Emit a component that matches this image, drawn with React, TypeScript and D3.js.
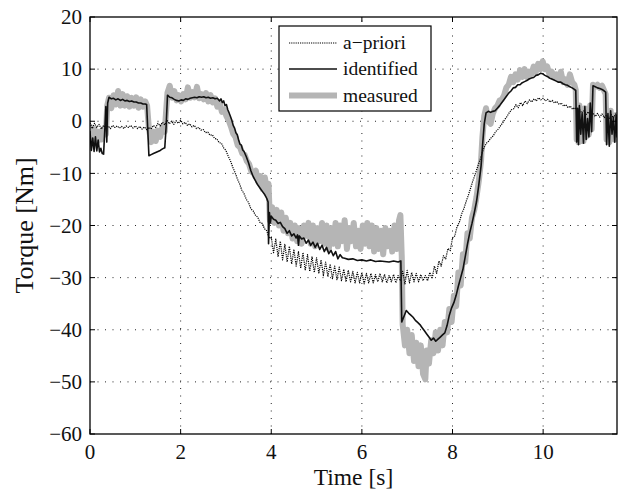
import React from "react";
import * as d3 from "d3";

const xTicks = [0, 2, 4, 6, 8, 10];
const yTicks = [-60, -50, -40, -30, -20, -10, 0, 10, 20];
const legendLabels = ["a\u2212priori", "identified", "measured"];

const apriori: [number, number][] = [
  [0.00,-0.3],[0.05,-1.4],[0.10,-0.4],[0.15,-1.2],[0.20,-0.6],[0.25,-1.5],[0.30,-0.8],[0.35,-1.3],[0.40,-0.9],[0.45,-1.4],
  [0.50,-0.8],[0.55,-1.2],[0.60,-0.9],[0.65,-1.3],[0.70,-1.0],[0.75,-1.4],[0.80,-0.9],[0.85,-1.2],[0.90,-0.8],[0.95,-1.3],
  [1.00,-0.9],[1.05,-1.4],[1.10,-1.0],[1.15,-1.5],[1.20,-1.1],[1.25,-1.6],[1.30,-1.2],[1.35,-1.5],[1.40,-0.8],[1.45,-1.2],
  [1.50,-0.4],[1.55,-0.9],[1.60,-0.2],[1.65,-0.7],[1.70,0.2],[1.75,-0.5],[1.80,0.0],[1.85,-0.6],[1.90,0.1],[1.95,-0.4],
  [2.00,0.2],[2.05,-0.5],[2.10,-0.2],[2.15,-0.8],[2.20,-0.5],[2.25,-1.1],[2.30,-0.8],[2.35,-1.4],[2.40,-1.2],[2.45,-1.7],
  [2.50,-1.6],[2.55,-2.2],[2.60,-2.1],[2.65,-2.7],[2.70,-2.6],[2.75,-3.3],[2.80,-3.4],[2.85,-4.1],[2.90,-4.2],[2.95,-5.1],
  [3.00,-5.6],[3.05,-6.7],[3.10,-7.6],[3.15,-8.8],[3.20,-9.8],[3.25,-11.0],[3.30,-12.0],[3.35,-13.2],[3.40,-13.9],[3.45,-15.0],
  [3.50,-15.6],[3.55,-16.8],[3.60,-17.2],[3.65,-18.0],[3.70,-18.4],[3.75,-19.4],[3.80,-19.6],[3.85,-20.6],[3.90,-21.0],[3.95,-22.4],
  [4.00,-22.2],[4.05,-25.2],[4.10,-22.6],[4.15,-26.0],[4.20,-23.0],[4.25,-26.6],[4.30,-23.6],[4.35,-27.0],[4.40,-24.0],[4.45,-27.4],
  [4.50,-24.6],[4.55,-27.8],[4.60,-25.0],[4.65,-28.2],[4.70,-25.2],[4.75,-28.6],[4.80,-25.6],[4.85,-28.8],[4.90,-26.0],[4.95,-29.0],
  [5.00,-26.2],[5.05,-29.2],[5.10,-26.6],[5.15,-29.6],[5.20,-27.0],[5.25,-29.8],[5.30,-27.4],[5.35,-30.2],[5.40,-27.8],[5.45,-30.4],
  [5.50,-28.0],[5.55,-30.6],[5.60,-28.4],[5.65,-30.8],[5.70,-28.6],[5.75,-30.8],[5.80,-28.8],[5.85,-31.0],[5.90,-29.0],[5.95,-31.0],
  [6.00,-29.0],[6.05,-31.2],[6.10,-29.2],[6.15,-31.0],[6.20,-29.2],[6.25,-31.0],[6.30,-29.4],[6.35,-30.8],[6.40,-29.2],[6.45,-30.8],
  [6.50,-29.4],[6.55,-31.0],[6.60,-29.6],[6.65,-30.8],[6.70,-29.4],[6.75,-31.0],[6.80,-29.6],[6.85,-30.6],[6.90,-28.8],[6.95,-31.2],
  [7.00,-28.6],[7.05,-31.0],[7.10,-29.0],[7.15,-30.8],[7.20,-29.2],[7.25,-30.8],[7.30,-29.4],[7.35,-30.6],[7.40,-29.6],[7.45,-30.6],
  [7.50,-29.0],[7.55,-30.2],[7.60,-27.8],[7.65,-29.2],[7.70,-26.8],[7.75,-27.8],[7.80,-25.8],[7.85,-26.4],[7.90,-24.4],[7.95,-24.8],
  [8.00,-22.4],[8.05,-22.0],[8.10,-20.2],[8.15,-19.4],[8.20,-17.8],[8.25,-16.8],[8.30,-15.4],[8.35,-14.2],[8.40,-12.8],[8.45,-11.4],
  [8.50,-10.2],[8.55,-8.8],[8.60,-7.6],[8.65,-6.2],[8.70,-5.0],[8.75,-4.2],[8.80,-3.8],[8.85,-3.2],[8.90,-2.8],[8.95,-2.0],
  [9.00,-1.6],[9.05,-1.0],[9.10,-0.4],[9.15,0.3],[9.20,0.9],[9.25,1.6],[9.30,2.2],[9.35,2.4],[9.40,3.2],[9.45,2.6],
  [9.50,3.6],[9.55,3.0],[9.60,3.9],[9.65,3.4],[9.70,4.1],[9.75,3.7],[9.80,4.3],[9.85,3.9],[9.90,4.5],[9.95,4.1],
  [10.00,4.4],[10.05,3.9],[10.10,4.2],[10.15,3.7],[10.20,4.0],[10.25,3.5],[10.30,3.8],[10.35,3.2],[10.40,3.5],[10.45,2.9],
  [10.50,3.2],[10.55,2.6],[10.60,2.9],[10.65,2.3],[10.70,2.6],[10.75,2.0],[10.80,2.3],[10.85,1.6],[10.90,2.0],[10.95,1.3],
  [11.00,1.8],[11.05,1.0],[11.10,1.6],[11.15,0.9],[11.20,1.5],[11.25,0.8],[11.30,1.4],[11.35,0.7],[11.40,1.2],[11.45,0.4],
  [11.50,1.3],[11.55,0.6],[11.60,1.4],[11.63,1.0],
];

const identified: [number, number][] = [
  [0.00,-2.0],[0.03,-5.6],[0.06,-3.2],[0.09,-5.8],[0.12,-3.0],[0.15,-5.7],[0.18,-3.6],[0.21,-5.9],[0.24,-5.2],[0.27,-6.2],
  [0.30,-6.3],[0.33,-1.0],[0.35,2.8],[0.37,-4.0],[0.39,3.5],[0.42,4.6],[0.47,4.3],[0.52,4.4],[0.57,4.1],[0.62,4.3],
  [0.67,4.0],[0.72,4.2],[0.77,3.9],[0.82,4.0],[0.87,3.8],[0.92,3.9],[0.97,3.7],[1.02,3.7],[1.07,3.5],[1.12,3.5],
  [1.17,3.3],[1.22,3.3],[1.25,3.2],[1.30,-6.6],[1.35,-6.4],[1.40,-6.2],[1.45,-6.0],[1.50,-5.8],[1.55,-5.6],[1.60,-5.3],
  [1.65,-5.1],[1.68,-1.0],[1.71,5.0],[1.76,4.6],[1.81,4.5],[1.86,4.2],[1.91,4.0],[1.96,3.9],[2.01,4.1],[2.06,4.0],
  [2.11,4.3],[2.16,4.2],[2.21,4.4],[2.26,4.5],[2.31,4.6],[2.36,4.5],[2.41,4.7],[2.46,4.6],[2.51,4.7],[2.56,4.5],
  [2.61,4.6],[2.66,4.4],[2.71,4.5],[2.76,4.3],[2.81,4.4],[2.86,3.9],[2.89,4.3],[2.92,3.6],[2.95,3.9],[2.98,3.0],
  [3.01,3.2],[3.04,2.2],[3.07,1.6],[3.10,0.9],[3.13,0.2],[3.16,-0.8],[3.19,-1.3],[3.22,-2.2],[3.25,-2.6],[3.28,-3.6],
  [3.31,-4.4],[3.34,-4.6],[3.37,-5.5],[3.40,-5.8],[3.45,-6.8],[3.50,-8.0],[3.55,-9.5],[3.60,-10.6],[3.65,-11.4],[3.70,-12.2],
  [3.75,-12.8],[3.80,-13.4],[3.85,-14.0],[3.90,-14.8],[3.93,-15.5],[3.94,-23.5],[3.96,-17.5],[3.98,-19.5],[4.00,-18.2],[4.05,-18.8],
  [4.10,-19.0],[4.15,-19.6],[4.20,-19.4],[4.25,-20.2],[4.30,-20.6],[4.35,-21.5],[4.40,-21.0],[4.45,-22.0],[4.50,-21.6],[4.55,-22.4],
  [4.58,-21.8],[4.60,-23.8],[4.62,-22.0],[4.67,-22.6],[4.72,-22.4],[4.77,-23.4],[4.82,-22.8],[4.87,-23.8],[4.92,-23.2],[4.97,-24.2],
  [5.02,-23.4],[5.07,-24.6],[5.12,-23.8],[5.17,-25.0],[5.22,-24.2],[5.27,-25.4],[5.32,-24.8],[5.37,-25.8],[5.42,-25.0],[5.47,-26.4],
  [5.52,-25.6],[5.57,-26.2],[5.62,-26.3],[5.70,-26.5],[5.80,-26.4],[5.90,-26.7],[6.00,-26.6],[6.10,-26.8],[6.20,-26.6],[6.30,-26.9],
  [6.40,-26.8],[6.50,-26.9],[6.60,-27.0],[6.70,-26.8],[6.80,-27.0],[6.86,-26.8],[6.88,-38.5],[6.93,-37.4],[6.98,-36.3],[7.03,-36.8],
  [7.08,-37.2],[7.13,-37.6],[7.18,-38.2],[7.23,-38.6],[7.28,-39.0],[7.33,-39.6],[7.38,-40.2],[7.43,-40.8],[7.48,-41.4],[7.53,-42.0],
  [7.58,-41.6],[7.63,-42.2],[7.68,-41.8],[7.73,-41.4],[7.78,-41.0],[7.83,-40.6],[7.88,-39.2],[7.93,-37.2],[7.98,-35.8],[8.03,-34.8],
  [8.08,-33.4],[8.13,-31.6],[8.18,-30.0],[8.23,-28.4],[8.28,-26.0],[8.33,-23.6],[8.38,-21.4],[8.43,-19.6],[8.48,-17.6],[8.53,-15.4],
  [8.58,-12.2],[8.63,-8.6],[8.66,-5.0],[8.70,-0.5],[8.74,1.6],[8.79,1.9],[8.84,1.7],[8.89,1.9],[8.94,2.0],[8.99,2.5],
  [9.04,3.0],[9.09,3.6],[9.14,4.2],[9.19,4.8],[9.24,5.4],[9.29,5.8],[9.34,6.4],[9.39,6.5],[9.44,7.0],[9.49,7.0],
  [9.54,7.4],[9.59,7.6],[9.64,7.8],[9.69,8.1],[9.74,8.3],[9.79,8.4],[9.84,8.8],[9.89,8.9],[9.94,9.2],[9.99,9.1],
  [10.04,8.8],[10.09,8.6],[10.14,8.3],[10.19,8.1],[10.24,7.9],[10.29,7.7],[10.34,7.5],[10.39,7.5],[10.44,7.2],[10.49,7.0],
  [10.54,6.9],[10.59,6.6],[10.64,6.4],[10.69,6.1],[10.72,5.9],[10.74,-4.0],[10.76,2.5],[10.78,-4.5],[10.80,3.0],[10.83,-2.5],
  [10.86,1.5],[10.89,-4.2],[10.92,2.8],[10.95,-3.5],[10.98,0.5],[11.01,-3.0],[11.04,3.5],[11.07,-2.0],[11.10,6.8],[11.15,6.6],
  [11.20,6.4],[11.25,6.3],[11.30,6.1],[11.35,5.8],[11.38,5.6],[11.40,-4.5],[11.43,1.5],[11.46,-4.8],[11.49,2.0],[11.52,-2.5],
  [11.55,0.8],[11.58,-4.0],[11.61,1.2],[11.63,-3.0],
];

const measured: [number, number][] = [
  [0.00,-1.0],[0.05,-3.5],[0.10,-1.5],[0.15,-4.0],[0.20,-2.0],[0.25,-3.5],[0.30,-1.5],[0.35,-2.5],[0.38,3.0],[0.42,4.5],
  [0.47,2.5],[0.52,5.0],[0.57,3.2],[0.62,5.8],[0.67,3.0],[0.72,5.2],[0.77,3.0],[0.82,4.8],[0.87,2.8],[0.92,4.5],
  [0.97,3.0],[1.02,4.6],[1.07,2.6],[1.12,4.2],[1.17,2.8],[1.22,3.8],[1.26,3.0],[1.30,-1.5],[1.35,-4.0],[1.40,-2.0],
  [1.45,-3.8],[1.50,-1.8],[1.55,-3.0],[1.60,-1.0],[1.65,-2.0],[1.68,2.0],[1.71,5.5],[1.76,6.8],[1.81,4.5],[1.86,5.8],
  [1.91,4.0],[1.96,5.0],[2.01,3.8],[2.06,5.2],[2.11,4.2],[2.16,6.5],[2.21,4.5],[2.26,5.6],[2.31,4.6],[2.36,6.6],
  [2.41,4.4],[2.46,5.2],[2.51,4.2],[2.56,5.4],[2.61,3.8],[2.66,5.0],[2.71,3.6],[2.76,4.4],[2.81,2.8],[2.86,3.6],
  [2.91,1.8],[2.96,2.2],[3.01,1.0],[3.06,0.2],[3.11,-1.0],[3.16,-2.4],[3.21,-3.0],[3.26,-4.6],[3.31,-5.0],[3.36,-6.2],
  [3.41,-6.4],[3.46,-7.6],[3.51,-8.2],[3.56,-9.6],[3.61,-10.0],[3.66,-9.5],[3.71,-11.6],[3.76,-10.5],[3.81,-13.0],[3.86,-10.8],
  [3.91,-14.0],[3.94,-12.0],[3.97,-19.0],[4.02,-16.5],[4.07,-19.5],[4.12,-17.0],[4.17,-20.0],[4.22,-17.5],[4.27,-21.0],[4.32,-18.5],
  [4.37,-21.5],[4.42,-19.5],[4.47,-22.5],[4.52,-20.0],[4.57,-23.0],[4.62,-20.5],[4.67,-23.5],[4.72,-20.0],[4.77,-22.0],[4.82,-19.5],
  [4.87,-23.5],[4.92,-20.0],[4.97,-24.0],[5.02,-20.5],[5.07,-23.0],[5.12,-19.5],[5.17,-23.5],[5.22,-20.0],[5.27,-24.5],[5.32,-20.5],
  [5.37,-23.5],[5.42,-19.5],[5.47,-24.0],[5.52,-20.0],[5.57,-23.0],[5.62,-19.0],[5.67,-24.5],[5.72,-20.5],[5.77,-23.0],[5.82,-19.5],
  [5.87,-24.0],[5.92,-21.0],[5.97,-24.5],[6.02,-20.0],[6.07,-23.5],[6.12,-19.5],[6.17,-24.0],[6.22,-20.0],[6.27,-25.0],[6.32,-20.5],
  [6.37,-24.5],[6.42,-21.0],[6.47,-25.5],[6.52,-20.5],[6.57,-24.0],[6.62,-21.0],[6.67,-25.0],[6.72,-20.0],[6.77,-24.5],[6.82,-19.0],
  [6.85,-18.0],[6.88,-26.0],[6.90,-39.0],[6.95,-43.0],[7.00,-40.0],[7.05,-44.5],[7.10,-41.0],[7.15,-46.0],[7.20,-42.5],[7.25,-47.0],
  [7.30,-43.0],[7.35,-48.5],[7.40,-49.5],[7.43,-44.0],[7.48,-46.5],[7.53,-42.0],[7.58,-44.5],[7.63,-40.5],[7.68,-44.0],[7.73,-40.0],
  [7.78,-43.0],[7.83,-38.5],[7.88,-40.5],[7.93,-36.0],[7.98,-38.5],[8.03,-33.5],[8.08,-35.5],[8.13,-29.0],[8.18,-31.5],[8.23,-25.5],
  [8.28,-27.0],[8.33,-21.5],[8.38,-22.5],[8.43,-18.5],[8.48,-17.0],[8.53,-14.5],[8.58,-11.5],[8.63,-7.5],[8.66,-3.0],[8.70,1.0],
  [8.74,2.5],[8.79,0.0],[8.84,-0.5],[8.89,1.5],[8.94,2.5],[8.99,3.0],[9.04,4.0],[9.09,4.2],[9.14,5.0],[9.19,6.5],
  [9.24,7.0],[9.29,8.5],[9.34,7.5],[9.39,9.0],[9.44,8.0],[9.49,9.8],[9.54,8.5],[9.59,10.0],[9.64,8.5],[9.69,9.5],
  [9.74,9.0],[9.79,10.5],[9.84,9.5],[9.89,11.0],[9.94,10.0],[9.99,11.5],[10.04,10.0],[10.09,10.5],[10.14,9.0],[10.19,9.5],
  [10.24,8.5],[10.29,9.0],[10.34,8.0],[10.39,9.5],[10.44,7.5],[10.49,8.0],[10.54,7.0],[10.59,9.0],[10.64,7.5],[10.69,7.0],
  [10.72,6.0],[10.74,-3.5],[10.76,2.0],[10.78,-4.0],[10.80,3.0],[10.83,-2.0],[10.86,1.5],[10.89,-3.8],[10.92,2.5],[10.95,-3.0],
  [10.98,0.5],[11.01,-2.5],[11.04,3.0],[11.07,-1.5],[11.10,7.0],[11.15,6.6],[11.20,7.0],[11.25,6.4],[11.30,6.8],[11.35,5.8],
  [11.38,5.2],[11.40,-3.5],[11.43,1.5],[11.46,-4.0],[11.49,2.0],[11.52,-2.0],[11.55,0.8],[11.58,-3.5],[11.61,1.2],[11.63,-2.5],
];

const W = 618;
const H = 490;
const L = 90;
const R = 617;
const T = 17;
const B = 434;
const FONT = "'Liberation Serif', 'Times New Roman', Times, serif";

export default function App() {
  const x = d3.scaleLinear().domain([0, 11.63]).range([L, R]);
  const y = d3.scaleLinear().domain([-60, 20]).range([B, T]);
  const line = d3
    .line<[number, number]>()
    .x((d) => x(d[0]))
    .y((d) => y(d[1]));
  const fmt = d3.format("d");
  const tickLen = 5;

  const legendX = 279;
  const legendY = 26;
  const legendW = 152;
  const legendH = 85;
  const rowY = [43, 69, 95.5];
  const styles = [
    { stroke: "#000", width: 1.2, dash: "1.2,1" },
    { stroke: "#111", width: 1.6, dash: undefined },
    { stroke: "#b5b5b5", width: 6, dash: undefined },
  ];
  const txt = { fontFamily: FONT };

  return (
    <svg
      width={W}
      height={H}
      style={{ position: "absolute", left: 0, top: 0, background: "#fff", fontFamily: FONT }}
    >
      <rect x={0} y={0} width={W} height={H} fill="#fff" />
      <defs>
        <clipPath id="plotclip">
          <rect x={L} y={T} width={R - L} height={B - T} />
        </clipPath>
      </defs>
      <g stroke="#000" strokeWidth={1} strokeDasharray="1,6.5" opacity={0.85}>
        {xTicks
          .filter((t) => t > 0)
          .map((t) => (
            <line key={"gx" + t} x1={x(t)} x2={x(t)} y1={B} y2={T} />
          ))}
        {yTicks
          .filter((t) => t > -60 && t < 20)
          .map((t) => (
            <line key={"gy" + t} x1={L} x2={R} y1={y(t)} y2={y(t)} />
          ))}
      </g>
      <g clipPath="url(#plotclip)" fill="none" strokeLinejoin="round" strokeLinecap="round">
        <path d={line(measured) || ""} stroke="#b5b5b5" strokeWidth={6} />
        <path
          d={line(apriori) || ""}
          stroke="#000"
          strokeWidth={1.2}
          strokeDasharray="1.2,1"
          strokeLinecap="butt"
        />
        <path d={line(identified) || ""} stroke="#111" strokeWidth={1.6} />
      </g>
      <rect x={L} y={T} width={R - L} height={B - T} fill="none" stroke="#000" strokeWidth={1.3} />
      <g stroke="#000" strokeWidth={1}>
        {xTicks.map((t) => (
          <g key={"tx" + t}>
            <line x1={x(t)} x2={x(t)} y1={B} y2={B - tickLen} />
            <line x1={x(t)} x2={x(t)} y1={T} y2={T + tickLen} />
          </g>
        ))}
        {yTicks.map((t) => (
          <g key={"ty" + t}>
            <line x1={L} x2={L + tickLen} y1={y(t)} y2={y(t)} />
            <line x1={R} x2={R - tickLen} y1={y(t)} y2={y(t)} />
          </g>
        ))}
      </g>
      <g fontSize={21} fill="#111">
        {xTicks.map((t) => (
          <text key={"lx" + t} x={x(t)} y={B + 24.5} textAnchor="middle" style={txt}>
            {fmt(t)}
          </text>
        ))}
        {yTicks.map((t) => (
          <text key={"ly" + t} x={L - 8} y={y(t)} dy="0.34em" textAnchor="end" style={txt}>
            {fmt(t)}
          </text>
        ))}
      </g>
      <text x={(L + R) / 2} y={484.8} textAnchor="middle" fontSize={23.5} fill="#111" style={txt}>
        Time [s]
      </text>
      <text
        transform={`translate(33, ${(T + B) / 2}) rotate(-90)`}
        textAnchor="middle"
        fontSize={26}
        fill="#111"
        style={txt}
      >
        Torque [Nm]
      </text>
      <rect x={legendX} y={legendY} width={legendW} height={legendH} fill="#fff" stroke="#000" strokeWidth={1.2} />
      {legendLabels.map((lab, i) => (
        <g key={lab}>
          <line
            x1={289}
            x2={337}
            y1={rowY[i]}
            y2={rowY[i]}
            stroke={styles[i].stroke}
            strokeWidth={styles[i].width}
            strokeDasharray={styles[i].dash}
          />
          <text x={343} y={rowY[i] + 6.3} fontSize={19.5} fill="#111" style={txt}>
            {lab}
          </text>
        </g>
      ))}
    </svg>
  );
}
